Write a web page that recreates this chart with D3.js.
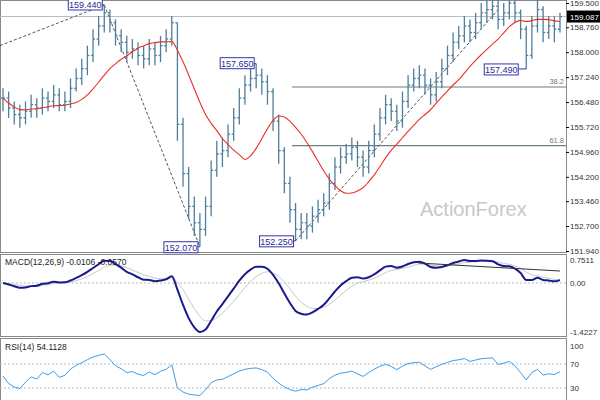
<!DOCTYPE html><html><head><meta charset="utf-8">
<script src="https://cdn.jsdelivr.net/npm/d3@7"></script>
<style>body{margin:0;background:#fff}svg{display:block;font-family:"Liberation Sans",sans-serif}</style></head><body>
<svg id="c" width="600" height="400"></svg>
<script>
const closes=[156.6,156.3,156.1,156.0,156.2,156.4,156.3,156.6,156.5,156.7,156.4,156.5,156.9,157.2,157.5,157.9,158.4,158.8,159.2,158.9,158.5,158.3,158.0,158.1,157.9,157.8,158.1,157.9,158.2,158.4,158.9,155.8,154.3,153.3,152.8,152.6,153.3,154.4,154.9,155.0,155.5,156.0,156.6,157.0,157.2,157.3,157.1,156.8,155.9,155.0,154.0,153.2,152.6,152.8,152.7,153.0,153.2,153.4,154.0,154.5,154.8,154.9,155.1,154.8,154.5,155.0,155.5,156.0,156.4,156.2,155.9,156.5,157.0,157.2,157.3,157.0,156.7,157.1,157.5,157.9,158.3,158.5,158.8,158.6,158.9,159.2,159.3,159.4,159.0,159.2,159.5,159.2,158.7,157.9,158.8,159.3,158.6,158.8,158.7,159.087];
const highs=[156.9,156.8,156.5,156.4,156.5,156.7,156.6,156.9,156.8,157.0,156.9,156.8,157.2,157.5,157.8,158.2,158.7,159.1,159.44,159.3,159.0,158.7,158.5,158.4,158.3,158.2,158.4,158.3,158.5,158.7,159.1,158.9,156.0,154.5,153.6,153.1,153.6,154.7,155.3,155.4,155.8,156.3,156.9,157.3,157.5,157.65,157.5,157.3,156.9,156.1,155.1,154.2,153.4,153.1,153.1,153.3,153.5,153.7,154.3,154.8,155.1,155.2,155.4,155.3,155.0,155.3,155.8,156.3,156.7,156.6,156.4,156.8,157.3,157.5,157.6,157.5,157.2,157.4,157.8,158.2,158.6,158.8,159.1,159.0,159.2,159.5,159.6,159.7,159.6,159.5,159.8,159.7,159.3,158.8,159.1,159.6,159.4,159.1,159.1,159.2];
const lows=[156.2,156.0,155.8,155.7,155.8,156.0,156.0,156.1,156.2,156.3,156.2,156.2,156.3,156.8,157.0,157.3,157.7,158.2,158.6,158.6,158.2,158.0,157.7,157.8,157.6,157.5,157.6,157.6,157.7,158.0,158.2,155.3,153.9,152.9,152.4,152.07,152.4,153.0,154.2,154.5,154.8,155.3,155.8,156.4,156.8,156.9,156.7,156.4,155.6,154.6,153.7,152.8,152.25,152.3,152.3,152.5,152.8,153.0,153.2,153.8,154.3,154.6,154.7,154.5,154.2,154.3,154.8,155.3,155.8,155.9,155.6,155.7,156.3,156.8,156.9,156.7,156.4,156.5,156.9,157.3,157.7,158.1,158.3,158.3,158.4,158.7,158.9,159.0,158.7,158.8,159.0,158.9,158.4,157.49,157.8,158.6,158.3,158.4,158.3,158.6];
const priceTicks=[159.5,158.76,158.0,157.24,156.48,155.72,154.96,154.2,153.46,152.7,151.94];
const fibLevels=[{p:156.94,t:"38.2"},{p:155.15,t:"61.8"}];
const swingLabels=[{i:18,p:159.44,t:"159.440",up:true},{i:45,p:157.65,t:"157.650",up:true},{i:35,p:152.07,t:"152.070",up:false},{i:52,p:152.25,t:"152.250",up:false},{i:93,p:157.49,t:"157.490",up:false}];
const macdTicks=["0.7511","0.00","-1.4227"];
const rsiTicks=[100,70,30];
const lastPrice=159.087;

const svg=d3.select("#c");
const W=566;
const x=d3.scaleLinear().domain([0,99]).range([3,560]);
const y=d3.scaleLinear().domain([151.94,159.5]).range([251,3]);
svg.append("rect").attr("x",0.5).attr("y",0.5).attr("width",W).attr("height",252).attr("fill","none").attr("stroke","#888");
svg.append("rect").attr("x",0.5).attr("y",254.5).attr("width",W).attr("height",82).attr("fill","none").attr("stroke","#888");
svg.append("rect").attr("x",0.5).attr("y",338.5).attr("width",W).attr("height",70).attr("fill","none").attr("stroke","#888");
svg.append("text").attr("x",420).attr("y",216).attr("font-size",20).attr("fill","#c8c8c8").text("ActionForex");
const ax=svg.append("g").attr("transform",`translate(${W},0)`).call(d3.axisRight(y).tickValues(priceTicks).tickSize(3).tickFormat(d3.format(".3f")));
ax.select(".domain").remove();ax.selectAll("text").attr("font-size",8).attr("fill","#333").attr("x",4).attr("font-family","Liberation Sans, sans-serif");
svg.append("line").attr("x1",0).attr("x2",W).attr("y1",y(lastPrice)).attr("y2",y(lastPrice)).attr("stroke","#bbb");
svg.append("rect").attr("x",W+1).attr("y",y(lastPrice)-6).attr("width",33).attr("height",12).attr("fill","#000");
svg.append("text").attr("x",W+4).attr("y",y(lastPrice)+3).attr("font-size",8).attr("fill","#fff").text(lastPrice.toFixed(3));
fibLevels.forEach(f=>{svg.append("line").attr("x1",292).attr("x2",W).attr("y1",y(f.p)).attr("y2",y(f.p)).attr("stroke","#6a7f86").attr("stroke-width",1.2);
svg.append("text").attr("x",W-2).attr("y",y(f.p)-3).attr("text-anchor","end").attr("font-size",7.5).attr("fill","#777").text(f.t);});
const tl=[[[0,158.2],[18,159.44]],[[18,159.44],[35,152.07]],[[52,152.25],[88,159.3]]];
tl.forEach(s=>svg.append("line").attr("x1",s[0][0]==0?0:x(s[0][0])).attr("y1",y(s[0][1])).attr("x2",x(s[1][0])).attr("y2",y(s[1][1])).attr("stroke","#555").attr("stroke-dasharray","3,2"));
const col="#4f7e9b";
const bg=svg.append("g").attr("stroke",col).attr("stroke-width",1.3);
closes.forEach((c,i)=>{const o=i?closes[i-1]:c;const xi=x(i);
bg.append("line").attr("x1",xi).attr("x2",xi).attr("y1",y(highs[i])).attr("y2",y(lows[i]));
bg.append("line").attr("x1",xi-2).attr("x2",xi).attr("y1",y(o)).attr("y2",y(o));
bg.append("line").attr("x1",xi).attr("x2",xi+2).attr("y1",y(c)).attr("y2",y(c));});
const P=13;const ma=closes.map((c,i)=>d3.mean(closes.slice(Math.max(0,i-P+1),i+1)));
svg.append("path").attr("d",d3.line().x((d,i)=>x(i)).y(d=>y(d)).curve(d3.curveMonotoneX)(ma)).attr("fill","none").attr("stroke","#e8302a").attr("stroke-width",1.1);
swingLabels.forEach(s=>{const yy=y(s.p);const bx=s.i===93?x(s.i)-42:x(s.i)-36;const by=s.up?yy-6:yy-5;
svg.append("line").attr("x1",bx+34).attr("x2",x(s.i)).attr("y1",yy).attr("y2",yy).attr("stroke","#3333aa");
svg.append("rect").attr("x",bx).attr("y",by).attr("width",34).attr("height",11).attr("fill","#fff").attr("stroke","#3333aa");
svg.append("text").attr("x",bx+17).attr("y",by+9).attr("text-anchor","middle").attr("font-size",9).attr("fill","#2a2a99").text(s.t);});
function ema(a,n){const k=2/(n+1);let r=[];a.forEach((v,i)=>r.push(i?v*k+r[i-1]*(1-k):v));return r;}
const e1=ema(closes,6),e2=ema(closes,13);const macd=e1.map((v,i)=>v-e2[i]);const sig=ema(macd,5);
const mx=d3.max(macd),mn=d3.min(macd);
const ym=d3.scaleLinear().domain([mn,0,mx]).range([332,283,260]);
svg.append("line").attr("x1",0).attr("x2",W).attr("y1",ym(0)).attr("y2",ym(0)).attr("stroke","#bbb").attr("stroke-dasharray","2,2");
svg.append("path").attr("d",d3.line().x((d,i)=>x(i)).y(d=>ym(d)).curve(d3.curveMonotoneX)(sig)).attr("fill","none").attr("stroke","#c8c8c8").attr("stroke-width",1);
svg.append("path").attr("d",d3.line().x((d,i)=>x(i)).y(d=>ym(d)).curve(d3.curveMonotoneX)(macd)).attr("fill","none").attr("stroke","#1a1a8c").attr("stroke-width",2);
svg.append("line").attr("x1",418).attr("x2",560).attr("y1",263).attr("y2",271).attr("stroke","#333");
svg.append("text").attr("x",5).attr("y",265).attr("font-size",8.5).attr("fill","#222").text("MACD(12,26,9) -0.0106 -0.0570");
[[mx,0],[0,1],[mn,2]].forEach(([v,k])=>svg.append("text").attr("x",W+4).attr("y",ym(v)+3).attr("font-size",8).attr("fill","#333").text(macdTicks[k]));
const rp=10;let g=0.05,l=0.05;const rsi=closes.map((c,i)=>{if(!i)return 50;const d=c-closes[i-1];g=(g*(rp-1)+Math.max(d,0))/rp;l=(l*(rp-1)+Math.max(-d,0))/rp;return 100-100/(1+g/l);});
const yr=d3.scaleLinear().domain([30,100]).range([388,346]);
[70,30].forEach(v=>svg.append("line").attr("x1",0).attr("x2",W).attr("y1",yr(v)).attr("y2",yr(v)).attr("stroke","#bbb").attr("stroke-dasharray","2,2"));
svg.append("path").attr("d",d3.line().x((d,i)=>x(i)).y(d=>yr(d))(rsi)).attr("fill","none").attr("stroke","#3d9be9").attr("stroke-width",1);
svg.append("text").attr("x",5).attr("y",350).attr("font-size",8.5).attr("fill","#222").text("RSI(14) 54.1128");
rsiTicks.forEach(v=>svg.append("text").attr("x",W+4).attr("y",yr(v)+3).attr("font-size",8).attr("fill","#333").text(v));
</script></body></html>
